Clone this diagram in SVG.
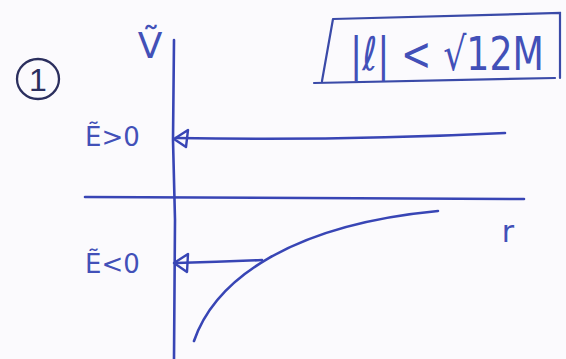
<svg xmlns="http://www.w3.org/2000/svg" width="566" height="359" viewBox="0 0 566 359">
<style>
.ln{fill:none;stroke:#3845b5;stroke-width:2.6;stroke-linecap:round;stroke-linejoin:round}
.t{font-family:"DejaVu Sans","Liberation Sans",sans-serif;fill:#4250b8}
.ah{fill:none;stroke:#3845b5;stroke-width:2.4;stroke-linejoin:round}
</style>
<rect width="566" height="359" fill="#fbfafd"/>
<g id="label-1">
<ellipse cx="38" cy="79" rx="21" ry="20" fill="none" stroke="#2b2f5e" stroke-width="2.3"/>
<text x="38" y="91" class="t" font-size="32" text-anchor="middle" style="fill:#2b2f5e;font-family:'Liberation Sans',sans-serif">1</text>
</g>
<g id="axes">
<path class="ln" d="M174 40 L173 140 L175 220 L174 359"/>
<path class="ln" d="M85 197 Q300 198 524 199"/>
<text x="150" y="58" class="t" font-size="36" text-anchor="middle">Ṽ</text>
<text x="508" y="242" class="t" font-size="30" text-anchor="middle">r</text>
</g>
<g id="condition-box">
<path d="M333 19 L560 13 L560 78 M333 19 L322 81 M314 83 L555 78" fill="none" stroke="#3a4aa8" stroke-width="2.2" stroke-linecap="round"/>
<text transform="translate(350 70) scale(1 1.15)" x="0" y="0" class="t" font-size="40" textLength="194" lengthAdjust="spacingAndGlyphs">|ℓ| &lt; √12M</text>
</g>
<g id="labels">
<text x="85" y="146" class="t" font-size="26">Ẽ&gt;0</text>
<text x="85" y="273" class="t" font-size="26">Ẽ&lt;0</text>
</g>
<g id="connectors">
<path class="ln" d="M176 138 Q340 141 505 133"/>
<path class="ah" d="M174 139 L188 130 L186 147 Z"/>
<path class="ln" d="M176 263 Q220 262 262 260"/>
<path class="ah" d="M174 263 L188 254 L187 272 Z"/>
<path class="ln" d="M194 341 C215 280 290 225 438 211"/>
</g>
</svg>
